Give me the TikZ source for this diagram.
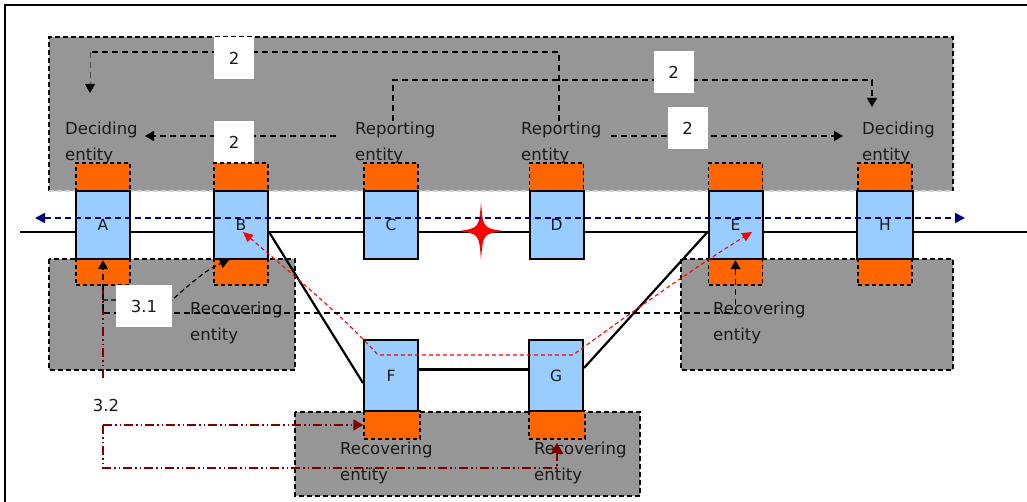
\documentclass[tikz,border=0pt]{standalone}
\usepackage{fontspec}
\setmainfont{DejaVu Sans}
\usetikzlibrary{arrows.meta}
\definecolor{grayfill}{HTML}{969696}
\definecolor{nodeblue}{HTML}{99CCFF}
\definecolor{orng}{HTML}{FF6600}
\definecolor{navyc}{HTML}{000080}
\definecolor{darkred}{HTML}{800000}
\definecolor{txt}{HTML}{1A1A1A}
\begin{document}
\begin{tikzpicture}[x=1pt,y=-1pt,
  >={Triangle[length=9pt,width=10pt]},
  zoneline/.style={draw=black, line width=1.7pt, dash pattern=on 5pt off 3pt},
  zone/.style={fill=grayfill, zoneline},
  entbox/.style={draw=black, fill=nodeblue, line width=2pt, minimum width=54pt, minimum height=68pt, inner sep=0pt, text=txt, font=\fontsize{15.5}{18}\selectfont},
  obox/.style={fill=orng, draw=black, line width=1.5pt, dash pattern=on 4pt off 3pt, minimum width=54pt, inner sep=0pt},
  lbl/.style={font=\fontsize{16.5}{26}\selectfont, align=left, anchor=north west, inner sep=0pt, text=txt},
  numbox/.style={fill=white, minimum width=40pt, minimum height=42pt, inner sep=0pt, text=txt, font=\fontsize{16.5}{20}\selectfont},
  msgline/.style={draw=black, line width=1.5pt, dash pattern=on 6pt off 4pt},
  drline/.style={draw=darkred, line width=1.7pt, dash pattern=on 9pt off 3pt on 1.5pt off 3pt on 1.5pt off 3pt},
  link/.style={draw=black, line width=2.2pt}
]
\useasboundingbox (0,0) rectangle (1027,502);

% frame
\draw[line width=2.5pt] (5,502) -- (5,5) -- (1027,5);

% zones
\fill[grayfill] (49,37) rectangle (953,191);
\draw[zoneline] (49,191) -- (49,37) -- (953,37) -- (953,191);
\draw[zoneline, draw=gray!35] (49,191) -- (953,191);
\path[zone] (49,259) rectangle (295,370);
\path[zone] (681,259) rectangle (953,370);
\path[zone] (295,412) rectangle (640,496);

% main line
\coordinate (lineL) at (20,232);
\coordinate (lineR) at (1027,232);
\draw[line width=2pt] (lineL) -- (lineR);

% labels
\node[lbl] (dec1) at (65,122) {Deciding\\entity};
\node[lbl] (rep1) at (355,122) {Reporting\\entity};
\node[lbl] (rep2) at (521,122) {Reporting\\entity};
\node[lbl] (dec2) at (862,122) {Deciding\\entity};

% top messages
\coordinate (c1a) at (559,121);
\coordinate (c1b) at (559,52);
\coordinate (c1c) at (90,52);
\coordinate (c1d) at (90,93);
\draw[msgline] (c1a) -- (c1b) -- (c1c);
\draw[draw=gray!60!black, line width=0.7pt, dash pattern=on 6pt off 4pt, -{Triangle[length=9pt,width=10pt,color=black]}] (c1c) -- (c1d);

\coordinate (c2a) at (393,121);
\coordinate (c2b) at (393,80);
\coordinate (c2c) at (872,80);
\coordinate (c2d) at (872,107);
\draw[msgline, ->] (c2a) -- (c2b) -- (c2c) -- (c2d);

\coordinate (c3a) at (336,136);
\coordinate (c3b) at (145,136);
\draw[msgline, ->] (c3a) -- (c3b);

\coordinate (c4a) at (611,136);
\coordinate (c4b) at (843,136);
\draw[msgline, ->] (c4a) -- (c4b);

\node[numbox] (n1) at (234,58) {2};
\node[numbox] (n2) at (234,142) {2};
\node[numbox] (n3) at (673.5,72) {2};
\node[numbox] (n4) at (687.5,128) {2};

% orange boxes (top)
\node[obox, minimum height=28pt] (At) at (103,177) {};
\node[obox, minimum height=28pt] (Bt) at (241,177) {};
\node[obox, minimum height=28pt] (Ct) at (391,177) {};
\node[obox, minimum height=28pt] (Dt) at (556.5,177) {};
\node[obox, minimum height=28pt] (Et) at (735.5,177) {};
\node[obox, minimum height=28pt] (Ht) at (885,177) {};
% orange boxes (bottom)
\node[obox, minimum height=26pt] (Ab) at (103,272) {};
\node[obox, minimum height=26pt] (Bb) at (241,272) {};
\node[obox, minimum height=26pt] (Eb) at (735.5,272) {};
\node[obox, minimum height=26pt] (Hb) at (885,272) {};
\node[obox, minimum height=28pt, minimum width=56pt] (Fb) at (392,425) {};
\node[obox, minimum height=28pt, minimum width=56pt] (Gb) at (557,425) {};

% entity boxes
\node[entbox] (A) at (103,225) {A};
\node[entbox] (B) at (241,225) {B};
\node[entbox] (C) at (391,225) {C};
\node[entbox] (D) at (556.5,225) {D};
\node[entbox] (E) at (735.5,225) {E};
\node[entbox, minimum width=56pt] (H) at (885,225) {H};
\node[entbox, minimum height=71pt] (F) at (391,375.5) {F};
\node[entbox, minimum height=71pt] (G) at (556,375.5) {G};

% physical links
\draw[link] ([yshift=-7pt]B.east) -- ([yshift=-7.5pt]F.west);
\draw[link] ([yshift=7.5pt]G.east) -- ([yshift=-7pt]E.west);
\draw[link, line width=3pt] ([yshift=6.5pt]F.east) -- ([yshift=6.5pt]G.west);

% failure star
\fill[red] (481,202) .. controls (483,228) .. (503,231) .. controls (483,234) .. (481,260)
  .. controls (479,234) .. (459,231) .. controls (479,228) .. (481,202) -- cycle;

% navy dashed arrow
\coordinate (nl) at (35,218);
\coordinate (nr) at (965,218);
\draw[navyc, line width=1.6pt, dash pattern=on 6pt off 4pt, <->, >={Triangle[length=10pt,width=10pt]}] (nl) -- (nr);

% red recovery path
\coordinate (rB) at (243,232);
\coordinate (r1) at (378,355);
\coordinate (r2) at (573,355);
\coordinate (rE) at (752,232);
\draw[red, line width=1.1pt, dash pattern=on 4pt off 3pt, <->, >={Triangle[length=10pt,width=9pt]}]
  (rB) .. controls (285,268) and (345,318) .. (r1) -- (r2) .. controls (600,335) and (690,270) .. (rE);

% bottom labels
\node[lbl] (rec1) at (190,302) {Recovering\\entity};
\node[lbl] (rec2) at (713,302) {Recovering\\entity};
\node[lbl] (rec3) at (340,442) {Recovering\\entity};
\node[lbl] (rec4) at (534,442) {Recovering\\entity};

% dark red 3.2 paths
\coordinate (d1) at (103,378);
\coordinate (d2) at (103,425);
\coordinate (d3) at (103,468);
\draw[drline] (d1) -- (Ab.south);
\draw[drline, ->, >={Triangle[length=10pt,width=11pt]}] (d2) -- (Fb.west);
\draw[drline, ->, >={Triangle[length=10pt,width=11pt]}] (d2) -- (d3) -| ([yshift=-3pt]Gb.south);
\node[inner sep=0pt, text=txt, font=\fontsize{16.5}{20}\selectfont] (t32) at (106,405) {3.2};

% black recovery path E <-> A
\coordinate (kA) at (103,313);
\draw[msgline, <->] ([yshift=-2pt]Eb.north) |- (kA) -- ([yshift=-2pt]Ab.north);

% 3.1 path
\coordinate (k31) at (103,300);
\coordinate (k31m) at (172,300);
\coordinate (k31e) at (229,260);
\draw[draw=black, line width=1.2pt, dash pattern=on 5pt off 3pt, ->] (k31) -- (k31m) .. controls (188,286) and (205,270) .. (k31e);
\node[numbox, minimum width=56pt] (n31) at (144,306) {3.1};
\end{tikzpicture}
\end{document}
